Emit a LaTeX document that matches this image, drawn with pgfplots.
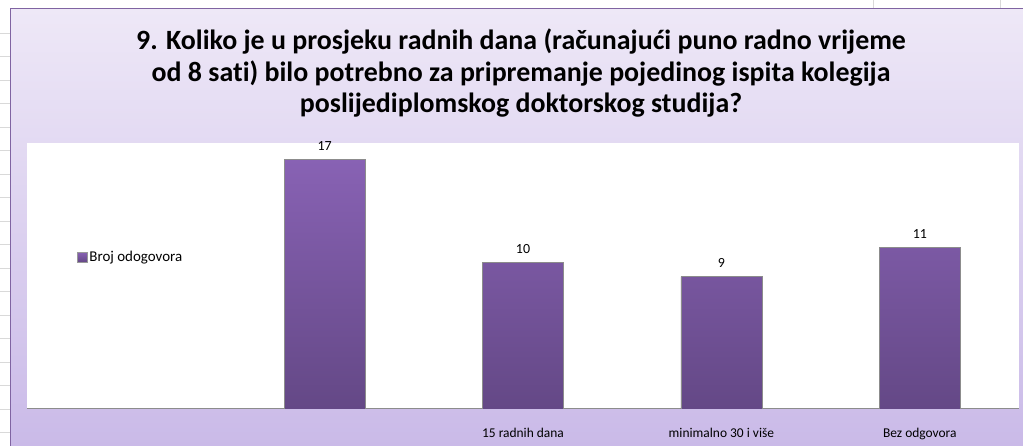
\documentclass[border=0pt]{standalone}
\usepackage{pgfplots}
\pgfplotsset{compat=1.18}
\usepackage{fontspec}
\setmainfont{Carlito}[Ligatures=NoCommon]
\definecolor{bgtop}{RGB}{238,232,247}
\definecolor{bgbot}{RGB}{202,186,232}
\definecolor{bartop}{RGB}{136,98,180}
\definecolor{barbot}{RGB}{100,72,134}
\definecolor{frame}{RGB}{128,100,162}
\begin{document}
\begin{tikzpicture}[x=1bp,y=1bp]
\useasboundingbox (0,0) rectangle (1023,446);
\fill[white] (0,0) rectangle (1023,446);
\foreach \yy in {33,56.5,80,103.5,127,150.5,174,197.5,221,244.5,268,291.5,315,338.5,362,385.5,409,432.5}
  \draw[black!15,line width=0.8bp] (0,446-\yy) -- (10,446-\yy);
\draw[black!15,line width=0.8bp] (873,446) -- (873,437);
\draw[black!15,line width=0.8bp] (1000,446) -- (1000,437);
\shade[top color=bgtop,bottom color=bgbot] (10,0) rectangle (1023,437);
\draw[frame,line width=1bp] (10.5,0) -- (10.5,437.5) -- (1023,437.5);
\node[anchor=base,font=\fontsize{28}{31.5}\selectfont\bfseries] at (521,446-50) {9. Koliko je u prosjeku radnih dana (računajući puno radno vrijeme};
\node[anchor=base,font=\fontsize{28}{31.5}\selectfont\bfseries] at (521,446-82) {od 8 sati) bilo potrebno za pripremanje pojedinog ispita kolegija};
\node[anchor=base,font=\fontsize{28}{31.5}\selectfont\bfseries] at (521,446-113) {poslijediplomskog doktorskog studija?};
\begin{axis}[
  at={(27bp,37bp)}, anchor=south west,
  scale only axis, width=992bp, height=266bp,
  xmin=-0.5, xmax=4.5, ymin=0, ymax=18.1,
  /pgf/number format/assume math mode=true,
  axis background/.style={fill=white},
  axis y line=none,
  axis x line*=bottom,
  x axis line style={black!45,line width=1bp,-},
  xtick={0,1,2,3,4},
  xticklabels={,,15 radnih dana,minimalno 30 i više,Bez odgovora},
  major tick length=0pt,
  xticklabel style={anchor=base,yshift=-29bp,font=\fontsize{13.5}{16}\selectfont},
  ybar, bar width=81bp,
  nodes near coords,
  nodes near coords style={anchor=base,yshift=9bp,font=\fontsize{14}{16}\selectfont,black},
  legend style={at={(rel axis cs:0.05,0.571)},anchor=west,draw=none,fill=none,
    font=\fontsize{15}{16}\selectfont,inner sep=0pt},
  legend image code/.code={\draw[black!40,top color=bartop,bottom color=barbot] (0bp,-5bp) rectangle (10bp,5bp);},
]
\addplot[draw=black!45,line width=0.6bp,top color=bartop,bottom color=barbot]
  coordinates {(1,17) (2,10) (3,9) (4,11)};
\addlegendentry{Broj odogovora}
\end{axis}
\end{tikzpicture}
\end{document}
